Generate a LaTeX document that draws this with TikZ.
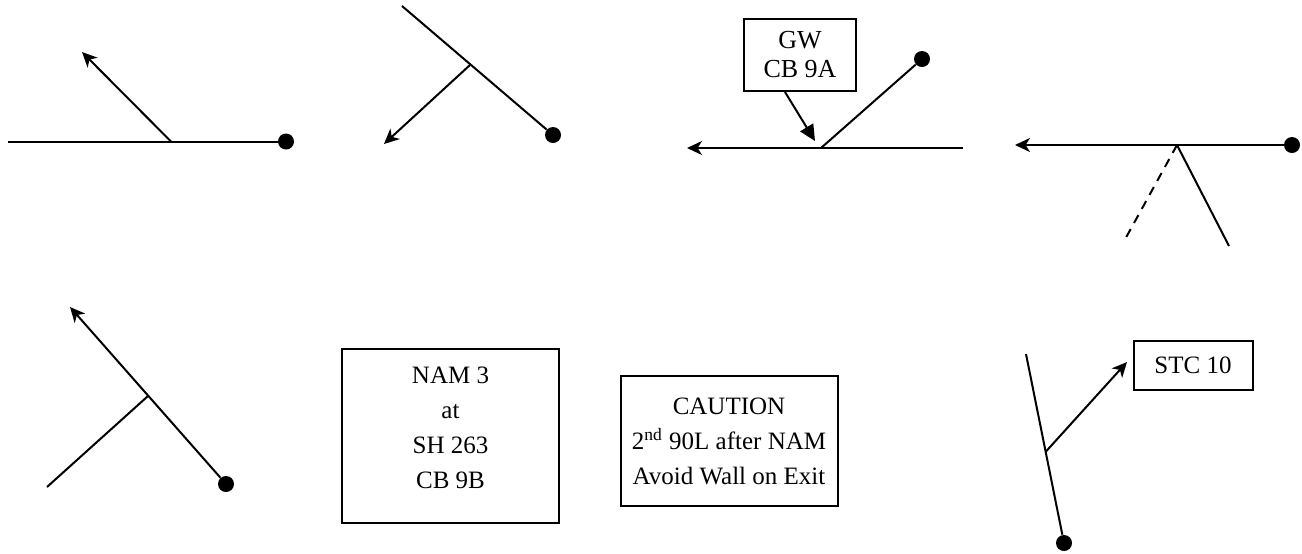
\documentclass[tikz,border=0pt]{standalone}
\usepackage{fontspec}
\setmainfont{Liberation Serif}
\usetikzlibrary{arrows.meta}
\begin{document}
\begin{tikzpicture}[x=0.5pt,y=-0.5pt,
  ln/.style={line width=1pt},
  arr/.style={ln,-{Stealth[length=7.5pt,width=7pt,inset=2.2pt]}},
  garr/.style={ln,-{Triangle[length=8pt,width=7.5pt]}},
  dashln/.style={ln,dash pattern=on 4.5pt off 3.5pt},
  dotnode/.style={circle,fill=black,draw=none,inner sep=0pt,minimum size=8pt},
  box/.style={draw,line width=1pt,inner sep=0pt,align=center,
    font=\fontsize{12.5}{17.5}\selectfont}]
\useasboundingbox (0,0) rectangle (1302,553);

% Panel 1
\coordinate (p1s) at (8,141.5);
\coordinate (p1j) at (171,141.5);
\coordinate (p1t) at (82,52);
\node[dotnode] (p1d) at (286,141.5) {};
\draw[ln] (p1s) -- (p1d);
\draw[arr] (p1j) -- (p1t);

% Panel 2
\coordinate (p2s) at (402,6);
\coordinate (p2j) at (470,65);
\coordinate (p2t) at (384,144);
\node[dotnode] (p2d) at (553,135) {};
\draw[ln] (p2s) -- (p2d);
\draw[arr] (p2j) -- (p2t);

% Panel 3
\node[box,minimum width=56pt,minimum height=36pt,
  font=\fontsize{13}{14.5}\selectfont] (gw) at (800,55) {GW\\CB 9A};
\coordinate (p3r) at (963,148);
\coordinate (p3j) at (821,148);
\coordinate (p3t) at (687,148);
\coordinate (p3g) at (815,141);
\node[dotnode] (p3d) at (922,59) {};
\draw[arr] (p3r) -- (p3t);
\draw[ln] (p3j) -- (p3d);
\draw[garr] (gw.south -| 785,0) -- (p3g);

% Panel 4
\node[dotnode] (p4d) at (1292,145) {};
\coordinate (p4t) at (1015,145);
\coordinate (p4j) at (1177,145);
\coordinate (p4a) at (1123,243);
\coordinate (p4b) at (1229,246);
\draw[arr] (p4d) -- (p4t);
\draw[dashln] (p4j) -- (p4a);
\draw[ln] (p4j) -- (p4b);

% Panel 5
\node[dotnode] (p5d) at (226,484) {};
\coordinate (p5t) at (70,307);
\coordinate (p5j) at (148,396);
\coordinate (p5e) at (47,487);
\draw[arr] (p5d) -- (p5t);
\draw[ln] (p5j) -- (p5e);

% Text boxes
\node[box,minimum width=108.5pt,minimum height=87pt,text depth=8pt] (nam) at (450.5,436)
  {NAM 3\\at\\SH 263\\CB 9B};
\node[box,minimum width=108.5pt,minimum height=65pt] (caution) at (729,441)
  {CAUTION\\2\textsuperscript{nd} 90L after NAM\\Avoid Wall on Exit};

% Panel STC
\node[box,minimum width=59.5pt,minimum height=24.5pt] (stc) at (1193,365) {STC 10};
\coordinate (p6s) at (1026,354);
\coordinate (p6j) at (1045.5,452);
\coordinate (p6t) at (1127,362);
\node[dotnode] (p6d) at (1064,543) {};
\draw[ln] (p6s) -- (p6d);
\draw[arr] (p6j) -- (p6t);
\end{tikzpicture}
\end{document}
